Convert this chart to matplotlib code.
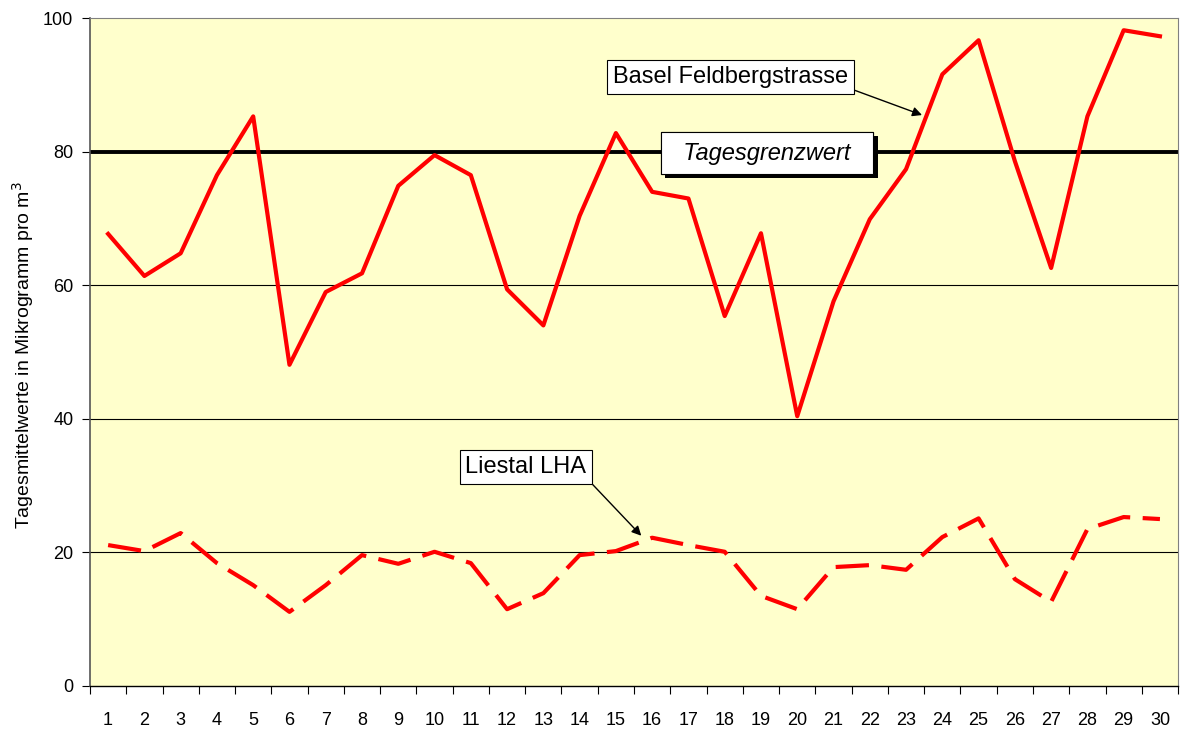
import numpy as np
import matplotlib
matplotlib.use("Agg")
import matplotlib.pyplot as plt
from matplotlib import patheffects

plt.rcParams['font.family'] = ['Liberation Sans', 'DejaVu Sans']

# Tage 1..30
days = list(range(1, 31))

# Basel Feldbergstrasse (Tagesmittel, ug/m3)
basel = [67.7, 61.4, 64.8, 76.5, 85.3, 48.1, 59.0, 61.8, 74.9, 79.5,
         76.5, 59.4, 54.0, 70.4, 82.8, 74.0, 73.0, 55.4, 67.8, 40.4,
         57.6, 69.9, 77.4, 91.6, 96.7, 78.6, 62.6, 85.3, 98.2, 97.3]

# Liestal LHA
liestal = [21.1, 20.2, 22.9, 18.4, 15.1, 11.1, 15.1, 19.6, 18.3, 20.1,
           18.4, 11.5, 13.9, 19.6, 20.2, 22.2, 21.1, 20.1, 13.5, 11.5,
           17.8, 18.1, 17.4, 22.3, 25.1, 16.0, 12.6, 23.5, 25.3, 25.0]

grenzwert = 80
y_ticks = [0, 20, 40, 60, 80, 100]

fig = plt.figure(figsize=(11.84, 7.29), dpi=100)
ax = fig.add_axes([0.076, 0.059, 0.919, 0.916])
ax.set_facecolor('#FFFFCC')

# grid lines
for y in [20, 40, 60]:
    ax.axhline(y, color='black', lw=0.8, zorder=1)
ax.axhline(grenzwert, color='black', lw=2.8, zorder=2)

ax.plot(days, basel, color='#FF0000', lw=3, zorder=3)
ax.plot(days, liestal, color='#FF0000', lw=3, zorder=3, dashes=(8, 3))

ax.set_xlim(0.5, 30.5)
ax.set_ylim(0, 100)

# ticks between categories, labels at category centres
ax.set_xticks(np.arange(0.5, 31, 1))
ax.set_xticklabels([])
ax.set_xticks(days, minor=True)
ax.set_xticklabels([str(d) for d in days], minor=True)
ax.tick_params(axis='x', which='major', direction='out', length=6, color='black')
ax.tick_params(axis='x', which='minor', length=0, pad=19, labelsize=13)
ax.set_yticks(y_ticks)
ax.tick_params(axis='y', direction='out', length=6, labelsize=13, pad=6)

for s in ['top', 'right']:
    ax.spines[s].set_color('#808080')
    ax.spines[s].set_linewidth(0.8)
ax.spines['left'].set_color('#555555')
ax.spines['left'].set_linewidth(1.2)
ax.spines['bottom'].set_color('black')
ax.spines['bottom'].set_linewidth(1)

fig.text(23 / 1184, 1 - 355 / 729, 'Tagesmittelwerte in Mikrogramm pro m$^3$',
         fontsize=14, rotation=90, ha='center', va='center')

# annotations
ax.annotate('Basel Feldbergstrasse', xy=(23.44, 85.5), xytext=(18.17, 91.2),
            fontsize=17, ha='center', va='center',
            bbox=dict(boxstyle='square,pad=0.25', fc='white', ec='black', lw=0.8),
            arrowprops=dict(arrowstyle='-|>', color='black', lw=1,
                            mutation_scale=14, shrinkA=0, shrinkB=0,
                            relpos=(1.0, 0.0)))

t = ax.text(19.17, 79.8, '  Tagesgrenzwert  ', fontsize=17, style='italic',
            ha='center', va='center', zorder=5,
            bbox=dict(boxstyle='square,pad=0.4', fc='white', ec='black', lw=0.8))
# drop shadow of the box
t.get_bbox_patch().set_path_effects([
    patheffects.withSimplePatchShadow(offset=(3, -3), shadow_rgbFace='black', alpha=1),
    patheffects.Normal()])

ax.annotate('Liestal LHA', xy=(15.7, 22.5), xytext=(12.52, 32.8),
            fontsize=17, ha='center', va='center',
            bbox=dict(boxstyle='square,pad=0.25', fc='white', ec='black', lw=0.8),
            arrowprops=dict(arrowstyle='-|>', color='black', lw=1,
                            mutation_scale=14, shrinkA=0, shrinkB=0,
                            relpos=(1.0, 0.0)))

fig.savefig('out.png', dpi=100)
